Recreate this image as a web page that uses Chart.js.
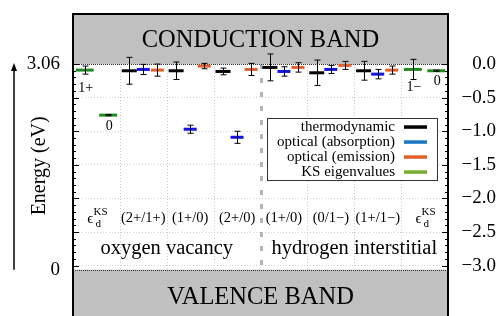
<!DOCTYPE html>
<html lang="en">
<head>
    <meta charset="UTF-8">
    <title>Defect levels</title>
    <style>
        body, html { margin: 0; padding: 0; background: #fff; }
        #wrap { width: 496px; height: 316px; }
    </style>
    <script src="https://cdn.jsdelivr.net/npm/chart.js"></script>
</head>
<body>
    <div id="wrap"><canvas id="levels" width="496" height="316"></canvas></div>
    <script>
        // categories: 'ks' means the epsilon_d^KS column
        const categories = ['ks', '(2+/1+)', '(1+/0)', '(2+/0)', '(1+/0)', '(0/1\u2212)', '(1+/1\u2212)', 'ks'];
        const groups = ['oxygen vacancy', 'hydrogen interstitial'];
        const groupSize = [4, 4];

        // energies relative to CBM (eV)
        const thermo     = [null, -0.10, -0.10, -0.11, -0.05, -0.13, -0.10, null];
        const thermoErr  = [null, 0.20, 0.13, 0.05, 0.20, 0.19, 0.14, null];
        const absorb     = [null, -0.08, -0.97, -1.09, -0.11, -0.08, -0.15, null];
        const absorbErr  = [null, 0.075, 0.06, 0.09, 0.07, 0.06, 0.07, null];
        const emit       = [null, -0.09, -0.03, -0.08, -0.05, -0.02, -0.09, null];
        const emitErr    = [null, 0.09, 0.04, 0.09, 0.07, 0.06, 0.06, null];

        // KS eigenvalues: category index, value, error, charge label
        const ksCat    = [0, 0, 7, 7];
        const ksValue  = [-0.09, -0.76, -0.08, -0.10];
        const ksErr    = [0.06, 0.01, 0.15, 0.01];
        const ksCharge = ['1+', '0', '1\u2212', '0'];

        const gap = 3.06;
        const rightTicks = [0, -0.5, -1.0, -1.5, -2.0, -2.5, -3.0];
        const leftTicks = ['3.06', '0'];

        const seriesLabels = ['thermodynamic', 'optical (absorption)', 'optical (emission)', 'KS eigenvalues'];
        const legendColors = ['#000000', '#1a78c2', '#e0602a', '#77ac30'];

        const SERIF = "'Liberation Serif', 'DejaVu Serif', serif";

        function pts(vals, off) {
            const out = [];
            vals.forEach((v, i) => { if (v !== null) out.push({ x: i + 0.5 + off, y: v }); });
            return out;
        }
        const ksSide = ksCat.map((c, i) => (i > 0 && ksCat[i - 1] === c) ? 0.25 : -0.25);
        const ksPts = ksValue.map((v, i) => ({ x: ksCat[i] + 0.5 + ksSide[i], y: v }));

        const errSets = [
            { vals: thermo, errs: thermoErr, off: -0.3 },
            { vals: absorb, errs: absorbErr, off: 0 },
            { vals: emit, errs: emitErr, off: 0.3 }
        ];

        const decor = {
            id: 'decor',
            beforeDatasetsDraw(chart) {
                const { ctx, chartArea: a, scales } = chart;
                const x = scales.x, y = scales.yR;
                const y0 = y.getPixelForValue(0), yv = y.getPixelForValue(-gap);
                ctx.save();
                // vertical separators
                let boundary = groupSize[0];
                for (let k = 1; k < categories.length; k++) {
                    const px = Math.round(x.getPixelForValue(k)) + 0.5;
                    ctx.beginPath();
                    if (k === boundary) {
                        ctx.strokeStyle = '#b4b4b4'; ctx.lineWidth = 3; ctx.setLineDash([5, 9]);
                    } else {
                        ctx.strokeStyle = '#c8c8c8'; ctx.lineWidth = 1; ctx.setLineDash([1, 2]);
                    }
                    ctx.moveTo(px, y0); ctx.lineTo(px, yv); ctx.stroke();
                }
                ctx.setLineDash([]);
                // bands
                ctx.fillStyle = '#c0c0c0';
                ctx.fillRect(a.left, a.top, a.right - a.left, y0 - a.top);
                ctx.fillRect(a.left, yv, a.right - a.left, a.bottom - yv);
                ctx.strokeStyle = '#333'; ctx.lineWidth = 1; ctx.setLineDash([1, 1]);
                [y0, yv].forEach(py => {
                    ctx.beginPath(); ctx.moveTo(a.left, Math.round(py) + 0.5); ctx.lineTo(a.right, Math.round(py) + 0.5); ctx.stroke();
                });
                ctx.setLineDash([]);
                ctx.fillStyle = '#000';
                ctx.textAlign = 'center'; ctx.textBaseline = 'middle';
                ctx.font = '24.5px ' + SERIF;
                const cx = (a.left + a.right) / 2;
                ctx.fillText('CONDUCTION BAND', cx, (a.top + y0) / 2 + 2);
                ctx.fillText('VALENCE BAND', cx, yv + 28);
                // minor ticks on frame
                ctx.strokeStyle = '#000'; ctx.lineWidth = 1;
                for (let i = 0; i <= 30; i++) {
                    const py = Math.round(y.getPixelForValue(-i / 10)) + 0.5;
                    const len = i % 5 === 0 ? 6 : 3;
                    ctx.beginPath();
                    ctx.moveTo(a.left, py); ctx.lineTo(a.left + len, py);
                    ctx.moveTo(a.right, py); ctx.lineTo(a.right - len, py);
                    ctx.stroke();
                }
                // category labels
                const ly = y.getPixelForValue(-2.29);
                categories.forEach((c, i) => {
                    const px = x.getPixelForValue(i + 0.5);
                    if (c === 'ks') {
                        ctx.font = '15px ' + SERIF; ctx.textAlign = 'right';
                        ctx.fillText('\u03f5', px - 3, ly + 1);
                        ctx.font = '11px ' + SERIF; ctx.textAlign = 'left';
                        ctx.fillText('KS', px - 3, ly - 6);
                        ctx.fillText('d', px - 1, ly + 6);
                    } else {
                        ctx.font = '14.5px ' + SERIF; ctx.textAlign = 'center';
                        ctx.fillText(c, px, ly);
                    }
                });
                ctx.font = '20.5px ' + SERIF; ctx.textAlign = 'center';
                const gy = y.getPixelForValue(-2.75);
                let start = 0;
                groups.forEach((g, i) => {
                    const mid = start + groupSize[i] / 2;
                    ctx.fillText(g, x.getPixelForValue(mid), gy);
                    start += groupSize[i];
                });
                ctx.restore();
            },
            afterDatasetsDraw(chart) {
                const { ctx, chartArea: a, scales } = chart;
                const x = scales.x, y = scales.yR;
                ctx.save();
                ctx.strokeStyle = '#000'; ctx.lineWidth = 1;
                function bar(xv, v, e) {
                    const px = Math.round(x.getPixelForValue(xv)) + 0.5;
                    const t = y.getPixelForValue(v + e), b = y.getPixelForValue(v - e);
                    ctx.beginPath();
                    ctx.moveTo(px, t); ctx.lineTo(px, b);
                    ctx.moveTo(px - 3, t); ctx.lineTo(px + 3, t);
                    ctx.moveTo(px - 3, b); ctx.lineTo(px + 3, b);
                    ctx.stroke();
                }
                errSets.forEach(s => s.vals.forEach((v, i) => { if (v !== null) bar(i + 0.5 + s.off, v, s.errs[i]); }));
                ksPts.forEach((p, i) => bar(p.x, p.y, ksErr[i]));
                // charge labels
                ctx.fillStyle = '#000'; ctx.font = '14px ' + SERIF;
                ctx.textAlign = 'center'; ctx.textBaseline = 'middle';
                ksPts.forEach((p, i) => {
                    const dy = ksErr[i] > 0.03 ? 18 : 11;
                    ctx.fillText(ksCharge[i], x.getPixelForValue(p.x) + 1, y.getPixelForValue(p.y) + dy);
                });
                // legend
                const lx1 = a.right - 11, lx0 = lx1 - 170, ly0 = y.getPixelForValue(-0.8);
                ctx.fillStyle = '#fff';
                ctx.fillRect(lx0, ly0, lx1 - lx0, 62);
                ctx.strokeStyle = '#333'; ctx.lineWidth = 1;
                ctx.strokeRect(Math.round(lx0) + 0.5, Math.round(ly0) + 0.5, lx1 - lx0, 62);
                ctx.font = '15px ' + SERIF; ctx.textAlign = 'right';
                seriesLabels.forEach((s, i) => {
                    const ry = ly0 + 9 + i * 15;
                    ctx.fillStyle = '#000';
                    ctx.fillText(s, lx1 - 42, ry);
                    ctx.fillStyle = legendColors[i];
                    ctx.fillRect(lx1 - 33, ry - 1.5, 23, 3.5);
                });
                // frame
                ctx.strokeStyle = '#000'; ctx.lineWidth = 2;
                ctx.beginPath();
                ctx.moveTo(a.left, a.bottom); ctx.lineTo(a.left, a.top);
                ctx.lineTo(a.right, a.top); ctx.lineTo(a.right, a.bottom);
                ctx.stroke();
                // energy arrow and title
                const yL = scales.yL;
                const top = yL.getPixelForValue(0), bot = yL.getPixelForValue(-gap);
                ctx.lineWidth = 1.5;
                ctx.beginPath(); ctx.moveTo(14, bot); ctx.lineTo(14, top + 4); ctx.stroke();
                ctx.fillStyle = '#000';
                ctx.beginPath(); ctx.moveTo(14, top - 1); ctx.lineTo(11, top + 7); ctx.lineTo(17, top + 7); ctx.closePath(); ctx.fill();
                ctx.translate(40, (top + bot) / 2 - 1);
                ctx.rotate(-Math.PI / 2);
                ctx.textAlign = 'center'; ctx.font = '20px ' + SERIF;
                ctx.fillText('Energy (eV)', 0, 0);
                ctx.restore();
            }
        };

        function noPad(w) {
            return ax => { ax.width = w; ax.paddingTop = 0; ax.paddingBottom = 0; };
        }

        const ctx = document.getElementById('levels').getContext('2d');
        new Chart(ctx, {
            type: 'scatter',
            data: {
                datasets: [
                    { label: seriesLabels[0], data: pts(thermo, -0.3), yAxisID: 'yR', borderColor: '#000', backgroundColor: '#000', pointRadius: 7.5, borderWidth: 3 },
                    { label: seriesLabels[1], data: pts(absorb, 0), yAxisID: 'yR', borderColor: '#1414e6', backgroundColor: '#1414e6', pointRadius: 6.5, borderWidth: 3 },
                    { label: seriesLabels[2], data: pts(emit, 0.3), yAxisID: 'yR', borderColor: '#e0622a', backgroundColor: '#e0622a', pointRadius: 6.5, borderWidth: 3 },
                    { label: seriesLabels[3], data: ksPts, yAxisID: 'yR', borderColor: '#1f8c22', backgroundColor: '#1f8c22', pointRadius: 9, borderWidth: 3 }
                ]
            },
            options: {
                responsive: false,
                animation: false,
                devicePixelRatio: 1,
                layout: { autoPadding: false, padding: { top: 14, bottom: 0, left: 0, right: 0 } },
                elements: { point: { pointStyle: 'line', hoverRadius: 7 } },
                plugins: { legend: { display: false }, tooltip: { enabled: false } },
                scales: {
                    x: {
                        type: 'linear', min: 0, max: categories.length,
                        display: false
                    },
                    yL: {
                        position: 'left', min: -3.75, max: 0.745,
                        afterBuildTicks: ax => { ax.ticks = [{ value: -gap }, { value: 0 }]; },
                        afterFit: noPad(73),
                        grid: { display: false },
                        border: { display: false },
                        ticks: {
                            padding: 5, color: '#000',
                            font: { family: SERIF, size: 19 },
                            callback: v => v === 0 ? leftTicks[0] : leftTicks[1]
                        }
                    },
                    yR: {
                        position: 'right', min: -3.75, max: 0.745,
                        afterBuildTicks: ax => { ax.ticks = rightTicks.map(v => ({ value: v })); },
                        afterFit: noPad(48),
                        grid: { color: '#d2d2d2', drawTicks: false },
                        border: { display: false, dash: [1, 2] },
                        ticks: {
                            padding: -3, crossAlign: 'far', color: '#000',
                            font: { family: SERIF, size: 19 },
                            callback: v => v === 0 ? '0.0' : '\u2212' + Math.abs(v).toFixed(1)
                        }
                    }
                }
            },
            plugins: [decor]
        });
    </script>
</body>
</html>
